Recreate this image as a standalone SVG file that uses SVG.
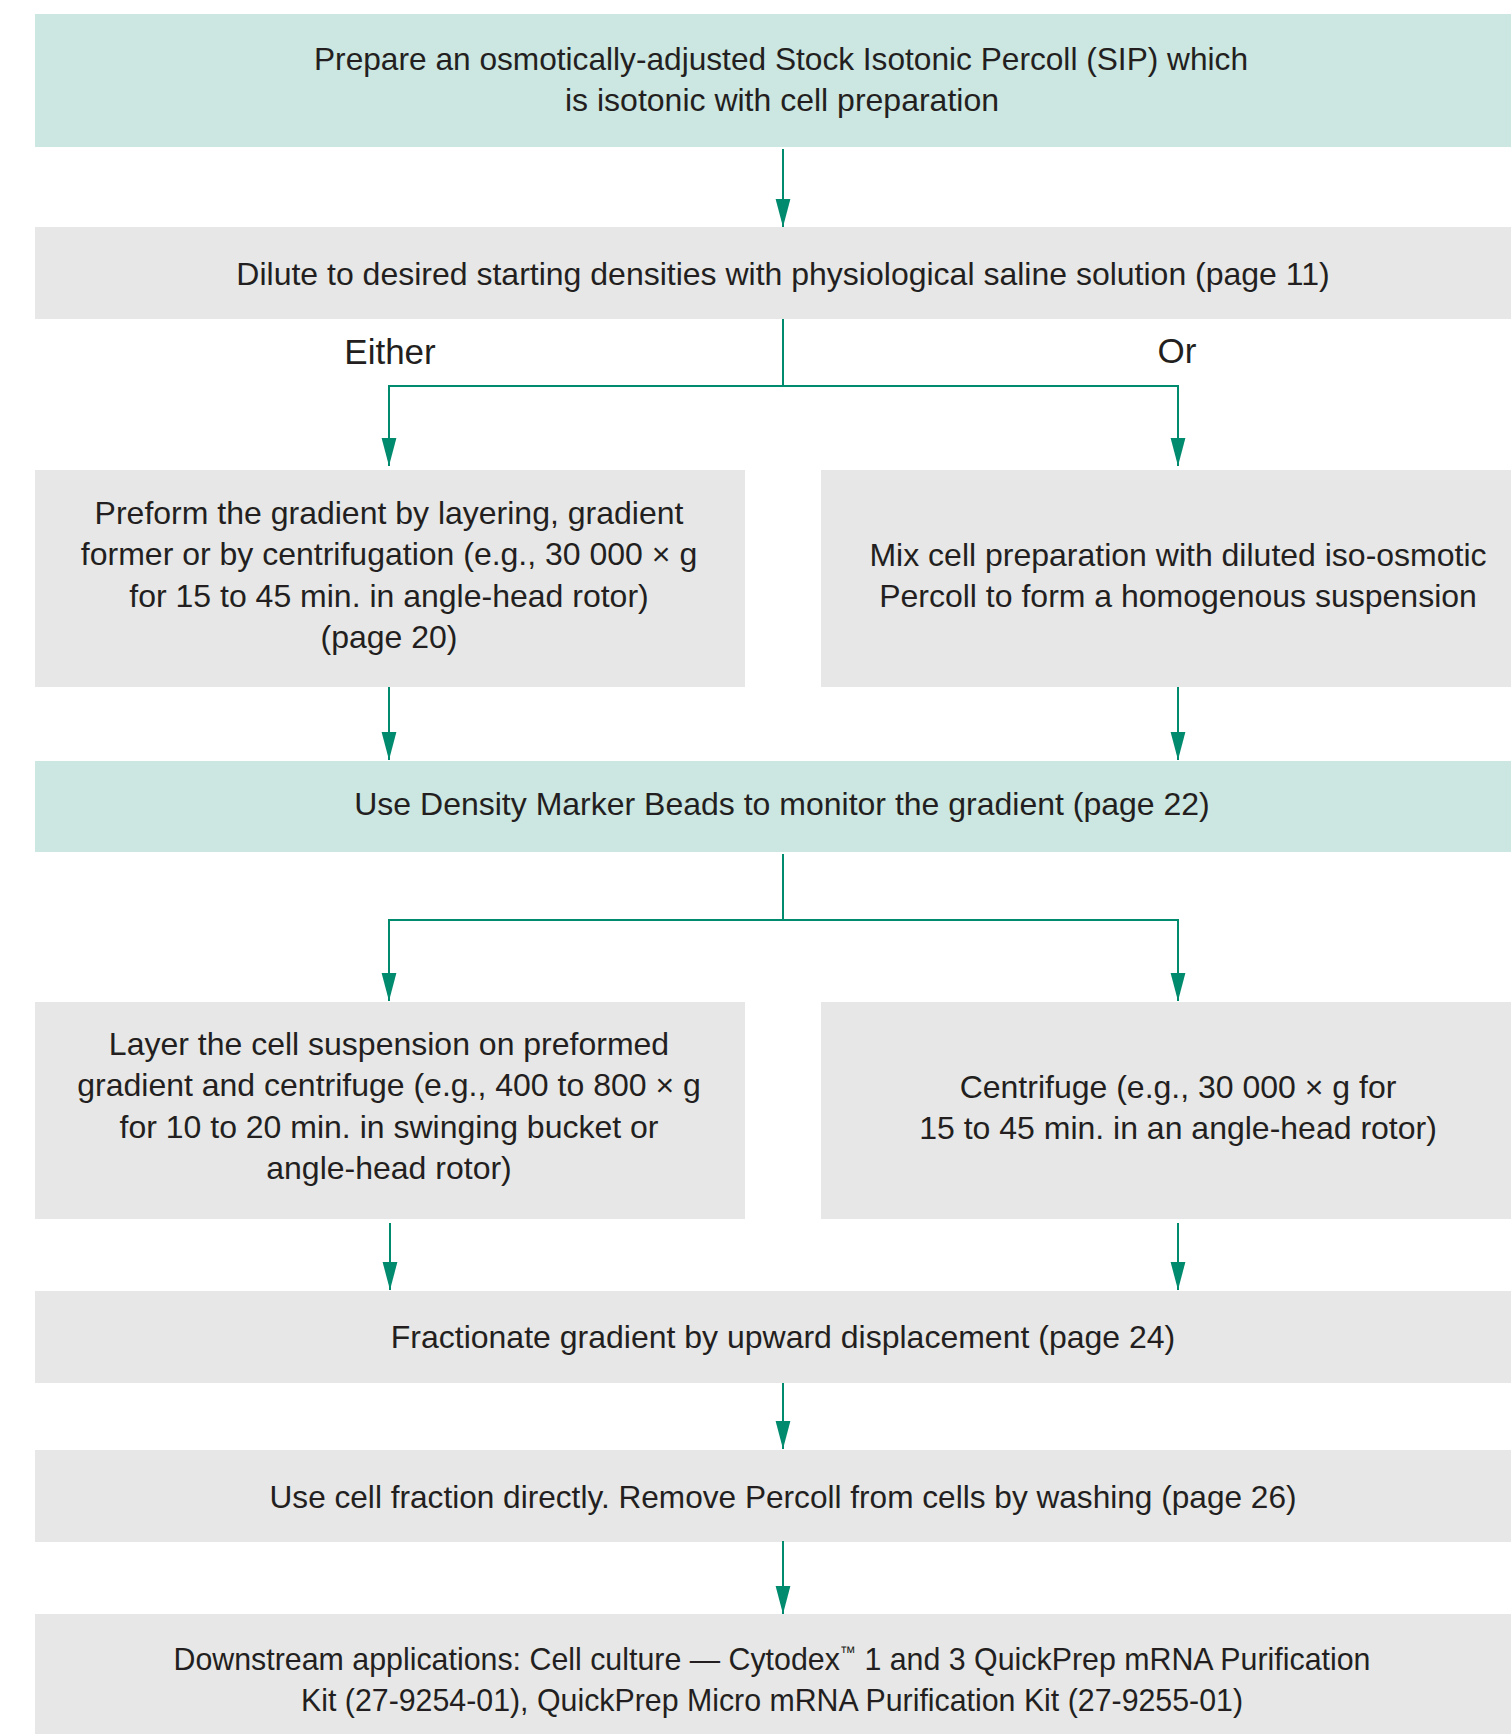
<svg xmlns="http://www.w3.org/2000/svg" width="1511" height="1734" viewBox="0 0 1511 1734">
<defs>
<style>
.teal{fill:#cce6e1}
.gray{fill:#e7e7e7}
text{font-family:"Liberation Sans",Arial,sans-serif;font-size:32px;fill:#231f20;text-anchor:middle}
.lbl{font-size:35px}
.conn{stroke:#008a6e;stroke-width:2;fill:none}
</style>
<marker id="ah" viewBox="0 -8 28 16" refX="28" refY="0" markerWidth="28" markerHeight="16" markerUnits="userSpaceOnUse" orient="auto"><path d="M0,-7.4 L28,0 L0,7.4 z" fill="#008a6e"/></marker>
</defs>
<rect width="1511" height="1734" fill="#ffffff"/>

<g id="n1">
<rect class="teal" x="35" y="14" width="1476" height="133"/>
<text x="781" y="70" textLength="934" lengthAdjust="spacingAndGlyphs">Prepare an osmotically-adjusted Stock Isotonic Percoll (SIP) which</text>
<text x="782" y="111">is isotonic with cell preparation</text>
</g>
<g id="n2">
<rect class="gray" x="35" y="227" width="1476" height="92"/>
<text x="783" y="285">Dilute to desired starting densities with physiological saline solution (page 11)</text>
</g>
<g id="lbl-either"><text class="lbl" x="390" y="364">Either</text></g>
<g id="lbl-or"><text class="lbl" x="1177" y="363">Or</text></g>
<g id="n3L">
<rect class="gray" x="35" y="470" width="710" height="217"/>
<text x="389" y="524">Preform the gradient by layering, gradient</text>
<text x="389" y="565">former or by centrifugation (e.g., 30 000 &#215; g</text>
<text x="389" y="607">for 15 to 45 min. in angle-head rotor)</text>
<text x="389" y="648">(page 20)</text>
</g>
<g id="n3R">
<rect class="gray" x="821" y="470" width="690" height="217"/>
<text x="1178" y="566">Mix cell preparation with diluted iso-osmotic</text>
<text x="1178" y="607">Percoll to form a homogenous suspension</text>
</g>
<g id="n4">
<rect class="teal" x="35" y="761" width="1476" height="91"/>
<text x="782" y="815">Use Density Marker Beads to monitor the gradient (page 22)</text>
</g>
<g id="n5L">
<rect class="gray" x="35" y="1002" width="710" height="217"/>
<text x="389" y="1055">Layer the cell suspension on preformed</text>
<text x="389" y="1096">gradient and centrifuge (e.g., 400 to 800 &#215; g</text>
<text x="389" y="1138">for 10 to 20 min. in swinging bucket or</text>
<text x="389" y="1179">angle-head rotor)</text>
</g>
<g id="n5R">
<rect class="gray" x="821" y="1002" width="690" height="217"/>
<text x="1178" y="1098">Centrifuge (e.g., 30 000 &#215; g for</text>
<text x="1178" y="1139">15 to 45 min. in an angle-head rotor)</text>
</g>
<g id="n6">
<rect class="gray" x="35" y="1291" width="1476" height="92"/>
<text x="783" y="1348">Fractionate gradient by upward displacement (page 24)</text>
</g>
<g id="n7">
<rect class="gray" x="35" y="1450" width="1476" height="92"/>
<text x="783" y="1508" textLength="1027" lengthAdjust="spacingAndGlyphs">Use cell fraction directly. Remove Percoll from cells by washing (page 26)</text>
</g>
<g id="n8">
<rect class="gray" x="35" y="1614" width="1476" height="120"/>
<text x="772" y="1670" textLength="1197" lengthAdjust="spacingAndGlyphs">Downstream applications: Cell culture &#8212; Cytodex<tspan font-size="17" dy="-12">&#8482;</tspan><tspan dy="12"> 1 and 3 QuickPrep mRNA Purification</tspan></text>
<text x="772" y="1711" textLength="942" lengthAdjust="spacingAndGlyphs">Kit (27-9254-01), QuickPrep Micro mRNA Purification Kit (27-9255-01)</text>
</g>

<g id="connectors" class="conn">
<path d="M783,149 V227" marker-end="url(#ah)"/>
<path d="M783,319 V386"/>
<path d="M783,386 H389 V466" marker-end="url(#ah)"/>
<path d="M783,386 H1178 V466" marker-end="url(#ah)"/>
<path d="M389,687 V760" marker-end="url(#ah)"/>
<path d="M1178,687 V760" marker-end="url(#ah)"/>
<path d="M783,854 V920"/>
<path d="M783,920 H389 V1001" marker-end="url(#ah)"/>
<path d="M783,920 H1178 V1001" marker-end="url(#ah)"/>
<path d="M390,1223 V1290" marker-end="url(#ah)"/>
<path d="M1178,1223 V1290" marker-end="url(#ah)"/>
<path d="M783,1383 V1449" marker-end="url(#ah)"/>
<path d="M783,1541 V1614" marker-end="url(#ah)"/>
</g>
</svg>
